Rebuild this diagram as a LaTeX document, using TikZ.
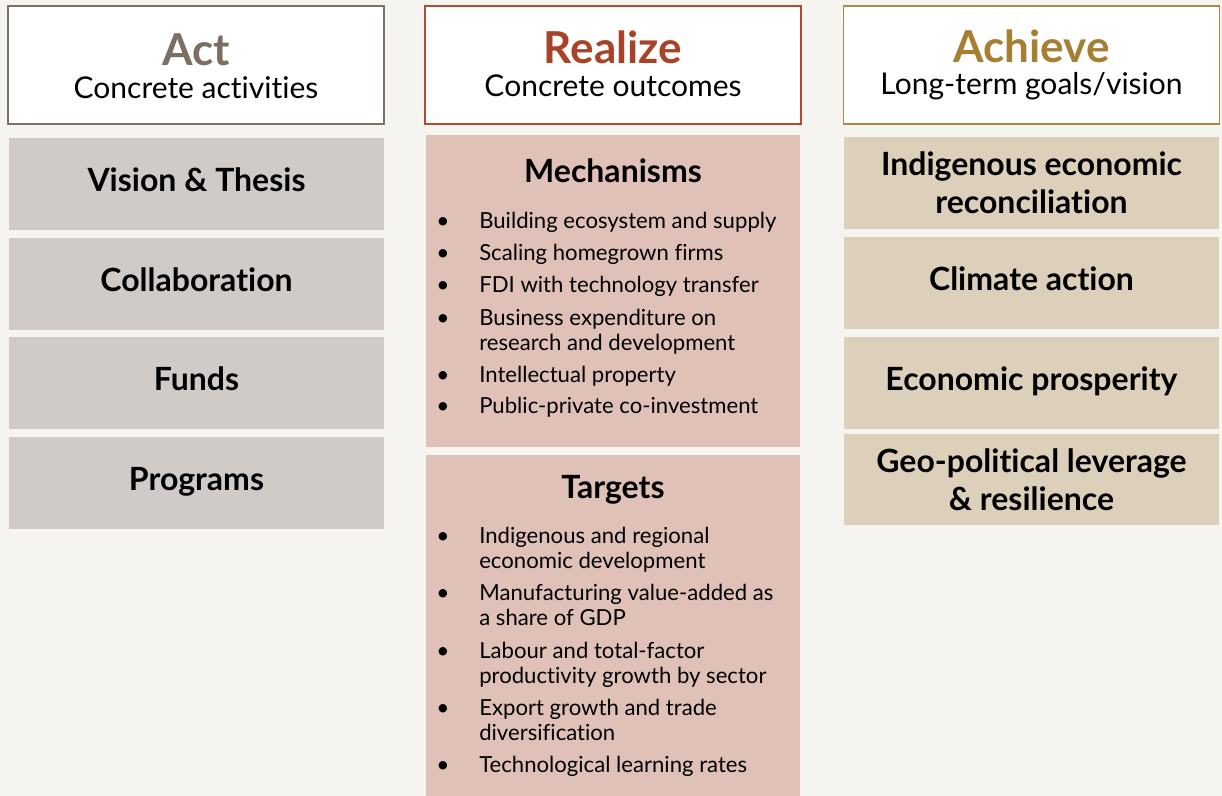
\documentclass[tikz,border=0pt]{standalone}
\usepackage{fontspec}
\setmainfont{Lato}[Ligatures=NoCommon]

\definecolor{paper}{HTML}{F5F4F0}
\definecolor{actfill}{HTML}{D0CBC7}
\definecolor{actline}{HTML}{7D7167}
\definecolor{actink}{HTML}{7B6E63}
\definecolor{realfill}{HTML}{DFC1B7}
\definecolor{realline}{HTML}{B24A30}
\definecolor{realink}{HTML}{A8432A}
\definecolor{achfill}{HTML}{DDD0BA}
\definecolor{achline}{HTML}{B08A45}
\definecolor{achink}{HTML}{A67F32}

\tikzset{
  head/.style={draw, line width=1.3pt, fill=white, minimum width=282pt, minimum height=88.5pt, inner sep=0pt},
  title/.style={anchor=base, inner sep=0pt, font=\fontsize{33}{38}\selectfont\bfseries},
  sub/.style={anchor=base, inner sep=0pt, font=\fontsize{22.5}{26}\selectfont},
  box/.style={minimum width=281pt, minimum height=69pt, inner sep=0pt, align=center,
    font=\fontsize{24}{28.5}\selectfont\bfseries},
  oneline/.style={text height=17pt, text depth=6pt},
  heading/.style={anchor=base, inner sep=0pt, font=\fontsize{24}{28}\selectfont\bfseries},
  item/.style={anchor=base west, inner sep=0pt, font=\fontsize{16.6}{18.75}\selectfont},
  dot/.style={anchor=base, inner sep=0pt, font=\fontsize{17}{18.75}\selectfont},
}

\begin{document}
\begin{tikzpicture}[x=0.75pt, y=-0.75pt]
	\useasboundingbox (0,0) rectangle (1222,796);
	\fill[paper] (0,0) rectangle (1222,796);

	% column heads
	\node[head, draw=actline] (act) at (196,65) {};
	\node[title, text=actink] (actT) at (196,65) {Act};
	\node[sub] (actS) at (196,98) {Concrete activities};

	\node[head, draw=realline] (real) at (613,65) {};
	\node[title, text=realink] (realT) at (613,63) {Realize};
	\node[sub] (realS) at (613,96) {Concrete outcomes};

	\node[head, draw=achline] (ach) at (1031.5,65) {};
	\node[title, text=achink] (achT) at (1031.5,62) {Achieve};
	\node[sub] (achS) at (1031.5,94) {Long-term goals/vision};

	% activities
	\node[box, oneline, fill=actfill] (vision) at (196.5,184) {Vision \& Thesis};
	\node[box, oneline, fill=actfill] (collab) at (196.5,284) {Collaboration};
	\node[box, oneline, fill=actfill] (funds) at (196.5,383) {Funds};
	\node[box, oneline, fill=actfill] (progs) at (196.5,483) {Programs};

	% outcomes
	\node[box, fill=realfill, minimum height=234pt] (mech) at (613,291) {};
	\node[heading] (mechT) at (613,182) {Mechanisms};
	\foreach \y [count=\i] in {228,260,292,325,382,413}
		\node[dot] (mdot\i) at (443,\y) {\textbullet};
	\foreach \y/\txt [count=\i] in {228/Building ecosystem and supply,
			260/Scaling homegrown firms,
			292/FDI with technology transfer,
			325/Business expenditure on,
			350/research and development,
			382/Intellectual property,
			413/Public-private co-investment}
		\node[item] (mline\i) at (479,\y) {\txt};

	\node[box, fill=realfill, minimum height=255.75pt] (targ) at (613,625.5) {};
	\node[heading] (targT) at (613,498) {Targets};
	\foreach \y [count=\i] in {543,600,658,715,772}
		\node[dot] (tdot\i) at (443,\y) {\textbullet};
	\foreach \y/\txt [count=\i] in {543/Indigenous and regional,
			568/economic development,
			600/Manufacturing value-added as,
			625/a share of GDP,
			658/Labour and total-factor,
			683/productivity growth by sector,
			715/Export growth and trade,
			740/diversification,
			772/Technological learning rates}
		\node[item] (tline\i) at (479,\y) {\txt};

	% goals
	\node[box, fill=achfill] (indig) at (1031.5,183) {Indigenous economic\\reconciliation};
	\node[box, oneline, fill=achfill] (climate) at (1031.5,283) {Climate action};
	\node[box, oneline, fill=achfill] (prosp) at (1031.5,383) {Economic prosperity};
	\node[box, fill=achfill, minimum height=68.25pt] (geo) at (1031.5,479.5) {Geo-political leverage\\\& resilience};
\end{tikzpicture}
\end{document}
